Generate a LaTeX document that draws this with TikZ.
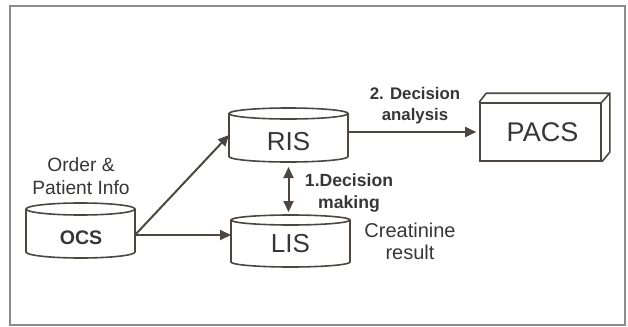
\documentclass[tikz,border=0pt]{standalone}
\usepackage{fontspec}
\setmainfont{Liberation Sans}
\usetikzlibrary{arrows.meta}
\definecolor{linec}{HTML}{4B4641}
\definecolor{textc}{HTML}{363636}
\definecolor{framec}{HTML}{8C8C8C}
\newcommand\dbcyl[5]{%
  \draw[cylline] (#1-#4,#2) -- (#1-#4,#3) arc[start angle=180,end angle=0,x radius=#4,y radius=#5] -- (#1+#4,#2);
  \draw[cylline] (#1,#2) ellipse[x radius=#4,y radius=#5];}
\tikzset{
  cylline/.style={draw=linec, line width=0.8pt},
  dbbox/.style={inner sep=0pt, outer sep=0pt},
  lbl/.style={text=textc, inner sep=0pt},
  arr/.style={draw=linec, line width=1pt, -{Triangle[length=5.5pt,width=5pt]}},
  darr/.style={draw=linec, line width=1pt, {Triangle[length=5.5pt,width=5pt]}-{Triangle[length=5.5pt,width=5pt]}},
  boxline/.style={draw=linec, line width=0.8pt},
}
\begin{document}
\begin{tikzpicture}[x=0.5pt,y=-0.5pt]
\useasboundingbox (0,0) rectangle (628,327);
\draw[draw=framec, line width=0.9pt] (10,6) rectangle (625,325);

% cylinders
\node[dbbox, minimum width=54.5pt, minimum height=27.5pt] (ocs) at (80.5,230.5) {};
\dbcyl{80.5}{209}{252}{54.5}{6}
\node[lbl, font=\bfseries\fontsize{9.8}{11}\selectfont] (ocst) at (81,237.5) {OCS};

\node[dbbox, minimum width=59.5pt, minimum height=27pt] (ris) at (288.5,135) {};
\dbcyl{288.5}{113.5}{156.5}{59.5}{5.5}
\node[lbl, font=\fontsize{13}{15}\selectfont] (rist) at (288.5,142) {RIS};

\node[dbbox, minimum width=59.5pt, minimum height=26pt] (lis) at (290.5,241) {};
\dbcyl{290.5}{220}{262}{59.5}{5}
\node[lbl, font=\fontsize{13}{15}\selectfont] (list) at (290.5,244) {LIS};

% PACS box
\node[boxline, minimum width=60.5pt, minimum height=29pt, inner sep=0pt, text=textc, font=\fontsize{13.5}{15}\selectfont] (pacs) at (540.5,132) {\hspace{2pt}PACS};
\coordinate (pb) at ([shift={(8,-9)}]pacs.north east);
\draw[boxline, line join=round] (pacs.north west) -- ++(7,-9) -- (pb) -- (pacs.north east);
\draw[boxline, line join=round] (pb) -- ++(0,59) -- (pacs.south east);

% labels
\node[lbl, align=center, font=\fontsize{9.6}{11.2}\selectfont] (opi) at (81,176) {Order \&\\Patient Info};
\node[lbl, align=center, font=\bfseries\fontsize{8.4}{10.5}\selectfont] (da) at (415,105.3) {2. Decision\\analysis};
\node[lbl, align=center, font=\bfseries\fontsize{8.8}{11}\selectfont] (dm) at (349,192.5) {1.Decision\\making};
\node[lbl, align=center, font=\fontsize{10}{11}\selectfont] (cr) at (410,241.8) {Creatinine\\result};

% connectors
\coordinate (ocsout) at ([yshift=-2.25pt]ocs.east);
\draw[arr] (ocsout) -- (ris.west);
\draw[arr] (ocsout) -- (ocsout -| lis.west);
\draw[darr, shorten <=2.5pt, shorten >=1.5pt] (ris.south) -- (ris.south |- lis.north);
\draw[arr, shorten >=1.5pt] (ris.east |- pacs.west) -- (pacs.west);
\end{tikzpicture}
\end{document}
